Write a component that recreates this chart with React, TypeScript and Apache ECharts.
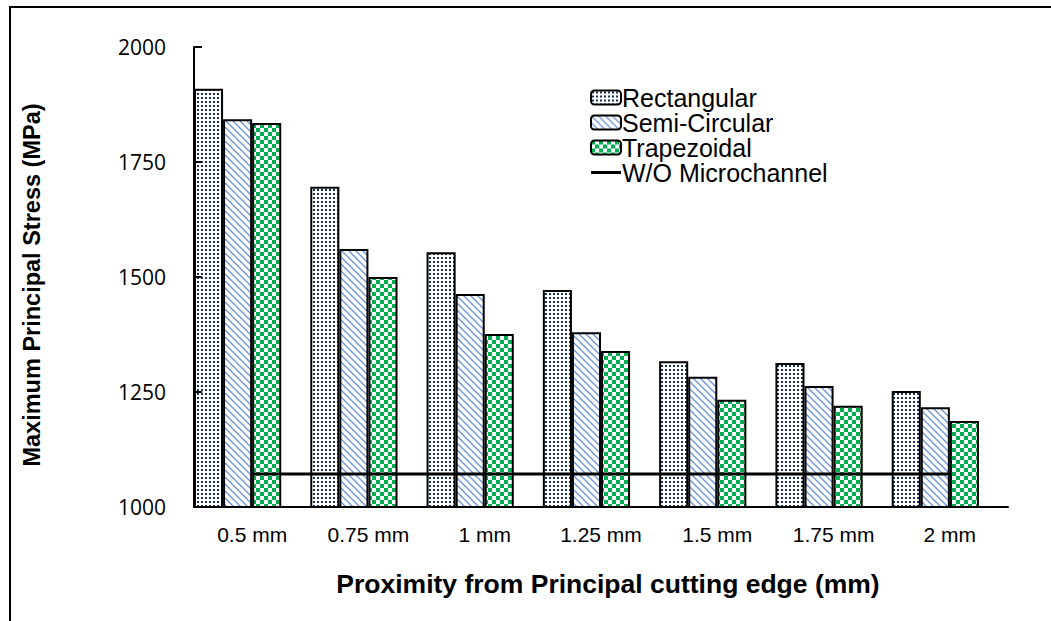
import React, { useEffect, useRef } from "react";
import * as echarts from "echarts";

const categories = ["0.5 mm", "0.75 mm", "1 mm", "1.25 mm", "1.5 mm", "1.75 mm", "2 mm"];
const rectangular = [1909, 1696, 1554, 1472, 1317, 1313, 1252];
const semiCircular = [1843, 1561, 1463, 1380, 1283, 1263, 1217];
const trapezoidal = [1835, 1500, 1376, 1339, 1233, 1220, 1187];
const withoutMicrochannel = [1072, 1072, 1072, 1072, 1072, 1072, 1072];
const spacer = [null, null, null, null, null, null, null];
const yMin = 1000;
const yMax = 2000;
const yInterval = 250;

function makeCanvas(w: number, h: number, draw: (ctx: CanvasRenderingContext2D) => void) {
  const c = document.createElement("canvas");
  c.width = w;
  c.height = h;
  const ctx = c.getContext("2d")!;
  ctx.fillStyle = "#ffffff";
  ctx.fillRect(0, 0, w, h);
  draw(ctx);
  return c;
}

function dotsPattern() {
  const c = makeCanvas(4, 4, (ctx) => {
    ctx.fillStyle = "#1a3260";
    ctx.fillRect(1, 1, 2, 2);
  });
  return { image: c, repeat: "repeat", imageWidth: 4, imageHeight: 4 };
}

function diagPattern() {
  const s = 7;
  const c = makeCanvas(s, s, (ctx) => {
    ctx.strokeStyle = "#6a93d8";
    ctx.lineWidth = 1.3;
    ctx.beginPath();
    ctx.moveTo(-1, -1);
    ctx.lineTo(s + 1, s + 1);
    ctx.moveTo(-1, s - 1);
    ctx.lineTo(1, s + 1);
    ctx.moveTo(s - 1, -1);
    ctx.lineTo(s + 1, 1);
    ctx.stroke();
  });
  return { image: c, repeat: "repeat", imageWidth: s, imageHeight: s };
}

function checkerPattern() {
  const c = makeCanvas(8, 8, (ctx) => {
    ctx.fillStyle = "#00b050";
    ctx.fillRect(0, 0, 4, 4);
    ctx.fillRect(4, 4, 4, 4);
  });
  return { image: c, repeat: "repeat", imageWidth: 8, imageHeight: 8 };
}

export default function App() {
  const ref = useRef<HTMLDivElement>(null);
  useEffect(() => {
    document.body.style.margin = "0";
    const chart = echarts.init(ref.current!, null, { renderer: "svg" });
    const barBase = {
      type: "bar",
      barGap: "0%",
      barCategoryGap: "0%",
      itemStyle: { borderColor: "#000", borderWidth: 2 },
    };
    chart.setOption({
      animation: false,
      backgroundColor: "#ffffff",
      graphic: [
        {
          type: "rect",
          shape: { x: 10, y: 7, width: 1200, height: 800 },
          style: { fill: "none", stroke: "#000", lineWidth: 2 },
          silent: true,
        },
      ],
      legend: {
        orient: "vertical",
        left: 585,
        top: 80,
        itemWidth: 30,
        itemHeight: 14,
        itemGap: 0,
        symbolKeepAspect: true,
        data: [
          "Rectangular",
          "Semi-Circular",
          "Trapezoidal",
          { name: "W/O Microchannel", icon: "path://M0,0 L30,0 L30,3 L0,3 Z" },
        ],
        textStyle: {
          fontFamily: "Liberation Sans",
          fontSize: 25,
          lineHeight: 24,
          color: "#000",
          padding: [0, 0, 0, -4],
        },
      },
      grid: { left: 194, right: 43, top: 47, bottom: 114 },
      xAxis: {
        type: "category",
        data: categories,
        boundaryGap: true,
        name: "Proximity from Principal cutting edge (mm)",
        nameLocation: "middle",
        nameGap: 63,
        nameTextStyle: { fontFamily: "Liberation Sans", fontWeight: "bold", fontSize: 26.5, color: "#000", padding: [0, 0, 0, 14] },
        axisLine: { lineStyle: { color: "#000", width: 2 } },
        axisTick: { inside: true, length: 9, lineStyle: { color: "#000", width: 2 } },
        axisLabel: { fontFamily: "Liberation Sans", fontSize: 21, color: "#000", margin: 17 },
      },
      yAxis: {
        type: "value",
        min: yMin,
        max: yMax,
        interval: yInterval,
        z: 5,
        name: "Maximum Principal Stress (MPa)",
        nameLocation: "middle",
        nameGap: 150,
        nameTextStyle: {
          fontFamily: "Liberation Sans",
          fontWeight: "bold",
          fontSize: 23.5,
          color: "#000",
          padding: [0, 16, 0, 0],
        },
        axisLine: { show: true, lineStyle: { color: "#000", width: 2 } },
        axisTick: { show: true, inside: true, length: 8, lineStyle: { color: "#000", width: 2 } },
        splitLine: { show: false },
        axisLabel: {
          fontFamily: "Open Sans",
          fontSize: 21,
          color: "#000",
          margin: 28,
          formatter: (v: number) => String(v),
        },
      },
      series: [
        { ...barBase, name: "Rectangular", data: rectangular, itemStyle: { ...barBase.itemStyle, color: dotsPattern() } },
        { ...barBase, name: "Semi-Circular", data: semiCircular, itemStyle: { ...barBase.itemStyle, color: diagPattern() } },
        { ...barBase, name: "Trapezoidal", data: trapezoidal, itemStyle: { ...barBase.itemStyle, color: checkerPattern() } },
        { ...barBase, name: "spacer", data: spacer, silent: true, itemStyle: { color: "transparent", borderWidth: 0 } },
        {
          type: "line",
          name: "W/O Microchannel",
          data: withoutMicrochannel,
          symbol: "none",
          z: 4,
          lineStyle: { color: "#000", width: 3 },
          itemStyle: { color: "#000" },
        },
      ],
    });
    return () => chart.dispose();
  }, []);
  return <div ref={ref} style={{ width: 1051, height: 621 }} />;
}
